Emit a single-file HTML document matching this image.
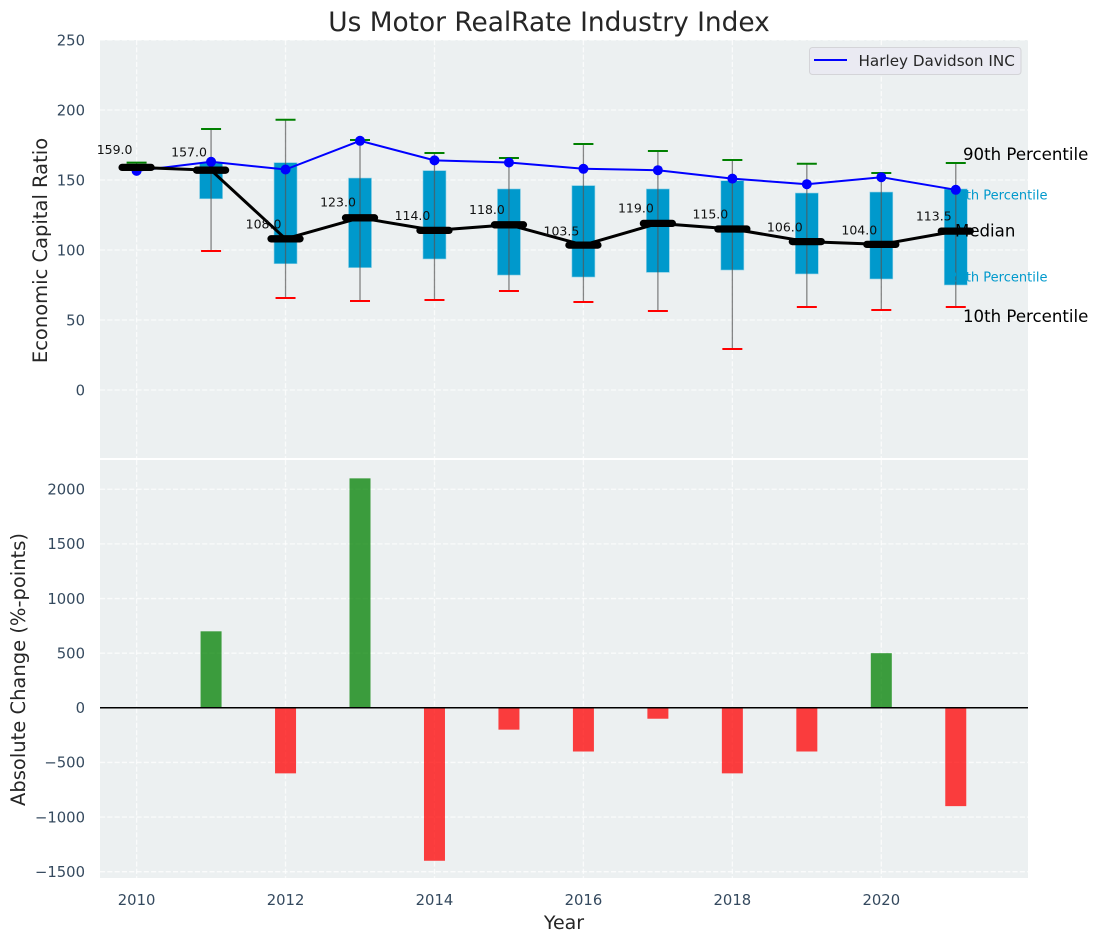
<!DOCTYPE html>
<html lang="en">
<head>
<meta charset="utf-8">
<title>Us Motor RealRate Industry Index</title>
<style>
html,body{margin:0;padding:0;background:#fff;width:1098px;height:942px;overflow:hidden}
svg{display:block;font-family:"DejaVu Sans","Liberation Sans",sans-serif}
</style>
</head>
<body>
<svg id="chart" xmlns="http://www.w3.org/2000/svg" width="1098" height="942" viewBox="0 0 1098 942">
  <rect x="0" y="0" width="1098" height="942" fill="#ffffff"/>
  <text x="549" y="31" text-anchor="middle" font-size="26.4" fill="#262626">Us Motor RealRate Industry Index</text>
  <rect x="100" y="40" width="928" height="418" fill="#ecf0f1"/>
  <rect x="100" y="460" width="928" height="418" fill="#ecf0f1"/>
  <g id="grid"></g>
  <g id="boxes"></g>
  <g id="whiskers"></g>
  <g id="bars"></g>
  <g id="yTicksTop"></g>
  <g id="yTicksBottom"></g>
  <g id="xTicks"></g>
  <text transform="translate(47 250.5) rotate(-90)" text-anchor="middle" font-size="19.5" fill="#262626">Economic Capital Ratio</text>
  <text transform="translate(25 669.5) rotate(-90)" text-anchor="middle" font-size="19.5" fill="#262626">Absolute Change (%-points)</text>
  <text x="564" y="929" text-anchor="middle" font-size="19" fill="#262626">Year</text>
  <g>
    <rect x="809.5" y="47.5" width="211.5" height="27" rx="3" fill="#eaeaf2" stroke="#d4d4d8" stroke-width="1"/>
    <line x1="814" y1="60" x2="847" y2="60" stroke="#0000ff" stroke-width="2"/>
    <text x="858.5" y="66" font-size="15.2" fill="#262626">Harley Davidson INC</text>
  </g>
  <g>
    <text x="963" y="160" font-size="16.6" fill="#000000">90th Percentile</text>
    <text x="949.3" y="199.5" font-size="13" fill="#0099cc">75th Percentile</text>
    <text x="949.3" y="281.5" font-size="13" fill="#0099cc">25th Percentile</text>
    <text x="963" y="322" font-size="16.6" fill="#000000">10th Percentile</text>
  </g>
  <g id="companyLine"></g>
  <g id="medianLine"></g>
  <text x="955" y="236.5" font-size="16.6" fill="#000000">Median</text>
  <g id="medianLabels"></g>
</svg>
<script>
var years = [2010, 2011, 2012, 2013, 2014, 2015, 2016, 2017, 2018, 2019, 2020, 2021];
var harley = [156.5, 163, 157.5, 178, 164, 162.5, 158, 157, 151, 147, 152, 143];
var medians = [159, 157, 108, 123, 114, 118, 103.5, 119, 115, 106, 104, 113.5];
var p90 = [162.4, 186.4, 193, 178.6, 169.3, 165.7, 175.7, 170.7, 164.3, 161.6, 155, 162.1];
var p75 = [159, 162, 162.4, 151.4, 156.7, 143.6, 146, 143.6, 149.5, 140.7, 141.4, 143.6];
var p25 = [159, 136.6, 90.2, 87.4, 93.6, 82.1, 80.7, 84, 85.7, 82.9, 79.3, 75];
var p10 = [159, 99.3, 65.7, 63.6, 64.3, 70.7, 62.9, 56.4, 29.3, 59.3, 57.1, 59.3];
var changes = [0, 700, -600, 2100, -1400, -200, -400, -100, -600, -400, 500, -900];
var topTicks = [0, 50, 100, 150, 200, 250];
var bottomTicks = [-1500, -1000, -500, 0, 500, 1000, 1500, 2000];
var xTickYears = [2010, 2012, 2014, 2016, 2018, 2020];

var NS = 'http://www.w3.org/2000/svg';
function xS(v) { return 136.6 + (v - 2010) * 74.47; }
function yTop(v) { return 390 - v * 1.4; }
function yBot(v) { return 707.8 - v * 0.10926; }
function make(tag, parent, props) {
  var el = document.createElementNS(NS, tag);
  Object.keys(props).forEach(function (k) { el.setAttribute(k, props[k]); });
  document.getElementById(parent).appendChild(el);
  return el;
}
var gridStyle = {stroke: '#ffffff', 'stroke-width': 1.3, 'stroke-dasharray': '5.1 2.2', opacity: 0.75};
function gridLine(x1, y1, x2, y2) {
  return make('line', 'grid', {x1: x1, y1: y1, x2: x2, y2: y2, stroke: gridStyle.stroke, 'stroke-width': gridStyle['stroke-width'], 'stroke-dasharray': gridStyle['stroke-dasharray'], opacity: gridStyle.opacity});
}

/* grid */
topTicks.forEach(function (t) {
  var el = gridLine(100, yTop(t), 1028, yTop(t));
  
  
});
bottomTicks.forEach(function (t) {
  var el = gridLine(100, yBot(t), 1028, yBot(t));
  
  
});
xTickYears.forEach(function (t) {
  var a = gridLine(xS(t), 40, xS(t), 458);
  
  
  var b = gridLine(xS(t), 460, xS(t), 878);
  
  
});

/* boxes */
years.forEach(function (yr, i) {
  if (p75[i] === p25[i]) { return; }
  var el = make('rect', 'boxes', {x: xS(yr) - 11.5, width: 23, y: yTop(p75[i]), height: yTop(p25[i]) - yTop(p75[i]), fill: '#0099cc', stroke: '#8fd0e6', 'stroke-width': 0.6});
  
  
});

/* whiskers and caps */
years.forEach(function (yr, i) {
  var w = make('line', 'whiskers', {x1: xS(yr), x2: xS(yr), y1: yTop(p90[i]), y2: yTop(p10[i]), stroke: '#555555', 'stroke-width': 1.3, opacity: 0.7});
  
  
  var c1 = make('line', 'whiskers', {x1: xS(yr) - 10, x2: xS(yr) + 10, y1: yTop(p90[i]), y2: yTop(p90[i]), stroke: '#008000', 'stroke-width': 2});
  
  
  var c2 = make('line', 'whiskers', {x1: xS(yr) - 10, x2: xS(yr) + 10, y1: yTop(p10[i]), y2: yTop(p10[i]), stroke: '#ff0000', 'stroke-width': 2});
  
  
});

/* company line */
var companyPts = years.map(function (yr, i) { return xS(yr) + ',' + yTop(harley[i]); }).join(' ');
var cl = make('polyline', 'companyLine', {points: companyPts, fill: 'none', stroke: '#0000ff', 'stroke-width': 2});


years.forEach(function (yr, i) {
  var d = make('circle', 'companyLine', {cx: xS(yr), cy: yTop(harley[i]), r: 5, fill: '#0000ff'});
  
  
});

/* median line */
var medianPts = years.map(function (yr, i) { return xS(yr) + ',' + yTop(medians[i]); }).join(' ');
var ml = make('polyline', 'medianLine', {points: medianPts, fill: 'none', stroke: '#000000', 'stroke-width': 3, 'stroke-linejoin': 'round'});


years.forEach(function (yr, i) {
  var m = make('line', 'medianLine', {x1: xS(yr) - 14.5, x2: xS(yr) + 14.5, y1: yTop(medians[i]), y2: yTop(medians[i]), stroke: '#000000', 'stroke-width': 7.3, 'stroke-linecap': 'round'});
  
  
});

/* median labels */
years.forEach(function (yr, i) {
  var t = make('text', 'medianLabels', {x: xS(yr) - 22, y: yTop(medians[i] * 1.05) - 7 + 4.5, 'text-anchor': 'middle', 'font-size': 12.5, fill: '#111111'});
  
  
  t.textContent = medians[i].toFixed(1);
});

/* change bars */
years.forEach(function (yr, i) {
  if (changes[i] === 0) { return; }
  var y0 = yBot(Math.max(changes[i], 0));
  var y1 = yBot(Math.min(changes[i], 0));
  var b = make('rect', 'bars', {x: xS(yr) - 10.5, width: 21, y: y0, height: y1 - y0, fill: changes[i] > 0 ? '#008000' : '#ff0000', 'fill-opacity': 0.75});
  
  
});
var zero = make('line', 'bars', {x1: 100, x2: 1028, y1: yBot(0), y2: yBot(0), stroke: '#000000', 'stroke-width': 1.5});



/* tick labels */
function fmt(v) { return v < 0 ? '\u2212' + Math.abs(v) : String(v); }
topTicks.forEach(function (t) {
  var el = make('text', 'yTicksTop', {x: 85, y: yTop(t) + 5.3, 'text-anchor': 'end', 'font-size': 14.8, fill: '#34495e'});
  
  
  el.textContent = fmt(t);
});
bottomTicks.forEach(function (t) {
  var el = make('text', 'yTicksBottom', {x: 85, y: yBot(t) + 5.3, 'text-anchor': 'end', 'font-size': 14.8, fill: '#34495e'});
  
  
  el.textContent = fmt(t);
});
xTickYears.forEach(function (t) {
  var el = make('text', 'xTicks', {x: xS(t), y: 905, 'text-anchor': 'middle', 'font-size': 14.8, fill: '#34495e'});
  
  
  el.textContent = String(t);
});
</script>
</body>
</html>
